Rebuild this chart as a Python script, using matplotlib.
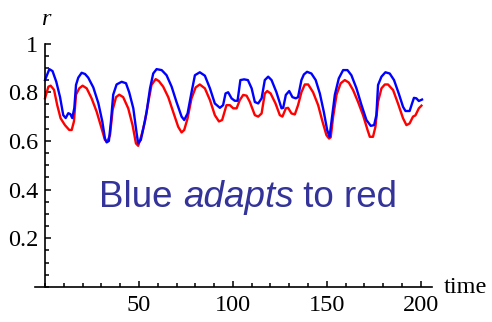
import matplotlib
matplotlib.use("Agg")
import matplotlib.pyplot as plt
from matplotlib.ticker import MultipleLocator

plt.rcParams['font.family'] = ['Liberation Serif', 'DejaVu Serif']

# blue curve
t_blue = [0, 2.3, 4, 6, 8, 9.7, 11, 12.4, 13.5, 14.5,
          15.6, 16.5, 17.7, 19.5, 21.3, 23, 25.7, 28.4, 30.5, 31.9,
          32.8, 34, 35.1, 36.3, 38.1, 40.8, 43.1, 44.8, 47, 48.8,
          49.6, 51, 52.3, 54.1, 55.9, 57.6, 59.4, 62.1, 64.7, 67.4,
          70, 72.7, 74.1, 75.9, 78, 79.8, 82.4, 85.1, 87.8, 90.4,
          93.1, 94.8, 96.1, 97.5, 99.3, 101, 102.5, 104, 106, 108,
          110, 111.7, 113.5, 115.3, 117, 118.8, 120.6, 123.2, 125.9, 126.8,
          128.2, 130, 131.7, 133.5, 134.7, 136.5, 137.8, 139.5, 141.8, 144.1,
          146.3, 148.4, 150.2, 151.5, 152.5, 154.3, 156.4, 158.7, 161, 163.1,
          165.8, 168.5, 171.1, 173.4, 175.2, 176.4, 177.3, 179.1, 181.2, 183.5,
          185.8, 188.3, 190.6, 191.9, 194.1, 195.4, 196.4, 197.7, 199, 200.7]
r_blue = [0.85, 0.895, 0.887, 0.843, 0.78, 0.706, 0.694, 0.714, 0.71, 0.694,
          0.735, 0.83, 0.86, 0.88, 0.875, 0.86, 0.82, 0.755, 0.68, 0.61,
          0.594, 0.60, 0.68, 0.79, 0.832, 0.843, 0.837, 0.80, 0.734, 0.63,
          0.59, 0.604, 0.65, 0.72, 0.816, 0.877, 0.895, 0.891, 0.87, 0.823,
          0.76, 0.70, 0.686, 0.713, 0.80, 0.87, 0.882, 0.868, 0.816, 0.754,
          0.736, 0.747, 0.795, 0.80, 0.775, 0.765, 0.765, 0.85, 0.853, 0.85,
          0.816, 0.76, 0.754, 0.775, 0.85, 0.864, 0.85, 0.80, 0.734, 0.736,
          0.789, 0.805, 0.78, 0.775, 0.78, 0.85, 0.873, 0.884, 0.877, 0.85,
          0.795, 0.72, 0.645, 0.617, 0.68, 0.79, 0.857, 0.891, 0.891, 0.87,
          0.816, 0.747, 0.686, 0.662, 0.665, 0.706, 0.83, 0.864, 0.882, 0.877,
          0.85, 0.795, 0.74, 0.723, 0.723, 0.754, 0.777, 0.775, 0.764, 0.77]

# red curve
t_red = [0, 1.8, 3, 4.8, 6.5, 8.3, 10.6, 12.9, 14.2, 15.4,
         16.5, 18.2, 20, 22.2, 24.8, 27.5, 30.1, 31.9, 33.1, 34.6,
         36, 37.8, 39.5, 41.6, 44.3, 46.6, 48.4, 49.6, 51.4, 53.2,
         55, 56.7, 58.9, 60.6, 62.9, 65.6, 68.2, 70.9, 72.7, 74.1,
         75.9, 78, 80.2, 82.4, 85.1, 87.8, 90.4, 92.6, 94.3, 96.6,
         98.4, 100.2, 102, 103.7, 105.5, 107.3, 109, 111.7, 113.5, 115.3,
         117, 118.3, 120.1, 122.7, 125, 126.4, 128.2, 129.4, 131.2, 133,
         134.7, 136.5, 138.3, 140.1, 142.7, 145.4, 147.7, 149.8, 151.2, 152.1,
         153.4, 155.2, 157.4, 159.6, 161.7, 164, 166.6, 169.3, 171.7, 172.9,
         174.6, 175.9, 177.3, 179.1, 180.9, 182.6, 185.3, 187.9, 190.6, 192.4,
         194.1, 195.9, 197.2, 199, 200.4]
r_red = [0.775, 0.823, 0.827, 0.81, 0.747, 0.693, 0.665, 0.645, 0.645, 0.68,
         0.79, 0.816, 0.827, 0.816, 0.775, 0.72, 0.652, 0.604, 0.597, 0.624,
         0.727, 0.78, 0.79, 0.78, 0.734, 0.665, 0.59, 0.58, 0.624, 0.68,
         0.76, 0.83, 0.854, 0.846, 0.823, 0.78, 0.72, 0.658, 0.635, 0.645,
         0.693, 0.775, 0.82, 0.832, 0.816, 0.768, 0.706, 0.68, 0.686, 0.747,
         0.747, 0.734, 0.734, 0.768, 0.789, 0.786, 0.761, 0.706, 0.70, 0.713,
         0.795, 0.805, 0.795, 0.754, 0.706, 0.70, 0.734, 0.736, 0.713, 0.709,
         0.747, 0.80, 0.832, 0.832, 0.80, 0.747, 0.68, 0.624, 0.61, 0.615,
         0.70, 0.79, 0.837, 0.85, 0.84, 0.809, 0.761, 0.706, 0.645, 0.617,
         0.617, 0.658, 0.761, 0.816, 0.832, 0.832, 0.809, 0.754, 0.693, 0.665,
         0.672, 0.70, 0.705, 0.734, 0.745]

x_major = [50, 100, 150, 200]
y_major = [0.2, 0.4, 0.6, 0.8, 1.0]
y_labels = ['0.2', '0.4', '0.6', '0.8', '1']

fig = plt.figure(figsize=(4.92, 3.22), dpi=100)
ax = fig.add_axes([0.0705, 0.1087, 0.8075, 0.756])

ax.plot(t_red, r_red, color='#ff0000', lw=1.7)
ax.plot(t_blue, r_blue, color='#0000ff', lw=1.7)

ax.set_xlim(-5.5, 206)
ax.set_ylim(0, 1)

# mathematica style axes crossing at the origin
for s in ['top', 'right']:
    ax.spines[s].set_visible(False)
ax.spines['left'].set_position(('data', 0))
ax.spines['bottom'].set_position(('data', 0))
ax.spines['left'].set_bounds(0, 1)
ax.spines['left'].set_linewidth(1.2)
ax.spines['bottom'].set_linewidth(1.2)

ax.set_xticks(x_major)
ax.set_xticklabels([str(v) for v in x_major])
ax.set_yticks(y_major)
ax.set_yticklabels(y_labels)
ax.xaxis.set_minor_locator(MultipleLocator(10))
ax.yaxis.set_minor_locator(MultipleLocator(0.05))
ax.tick_params(which='major', direction='in', length=4.5, width=1.1,
               labelsize=17.5, pad=5)
ax.tick_params(which='minor', direction='in', length=3, width=1.1)
ax.tick_params(axis='x', which='major', pad=6)

fig.text(41 / 492, 1 - 25 / 322, 'r', fontsize=17.5, style='italic',
         va='baseline', ha='left')
fig.text(444 / 492, 1 - 293 / 322, 'time', fontsize=17.5,
         va='baseline', ha='left')

# label with italic middle word, pieces chained one after another
col = '#333399'
fs = 26.5
kw = dict(fontsize=fs, family='Liberation Sans', color=col, va='baseline')
t1 = ax.text(99 / 492, 1 - 207 / 322, 'Blue ', transform=fig.transFigure, **kw)
t2 = ax.annotate('adapts', xy=(1, 0), xycoords=t1, style='italic',
                 va='bottom', fontsize=fs, family='Liberation Sans', color=col)
ax.annotate(' to red', xy=(1, 0), xycoords=t2,
            va='bottom', fontsize=fs, family='Liberation Sans', color=col)

fig.savefig('out.png', dpi=100)
